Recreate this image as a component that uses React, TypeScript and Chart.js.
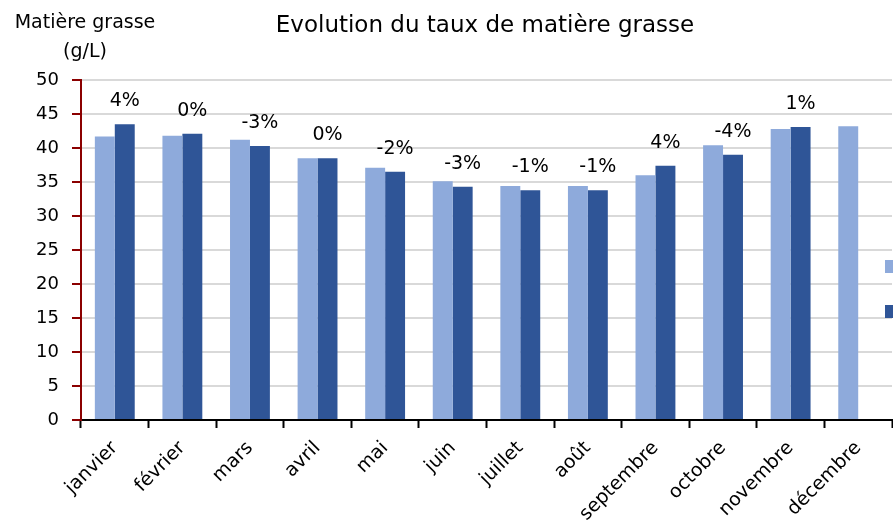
import React, { useEffect, useRef } from "react";
import { Chart, registerables } from "chart.js";

Chart.register(...registerables);

const categories = ["janvier", "février", "mars", "avril", "mai", "juin", "juillet", "août", "septembre", "octobre", "novembre", "décembre"];
const previousYear = [41.7, 41.8, 41.2, 38.5, 37.1, 35.1, 34.4, 34.4, 36.0, 40.4, 42.8, 43.2];
const currentYear: (number | null)[] = [43.5, 42.1, 40.3, 38.5, 36.5, 34.3, 33.8, 33.8, 37.4, 39.0, 43.1, null];
const changeLabels = ["4%", "0%", "-3%", "0%", "-2%", "-3%", "-1%", "-1%", "4%", "-4%", "1%", ""];
const yTicks = [0, 5, 10, 15, 20, 25, 30, 35, 40, 45, 50];

const LIGHT = "#8EAADB";
const DARK = "#2F5597";
const FONT = "'DejaVu Sans', sans-serif";

const overlay = {
  id: "overlay",
  afterDraw(chart: any) {
    const ctx = chart.ctx;
    ctx.save();
    ctx.fillStyle = "#000";
    ctx.textAlign = "center";
    ctx.textBaseline = "alphabetic";
    // title
    ctx.font = `23px ${FONT}`;
    ctx.fillText("Evolution du taux de matière grasse", 485, 32);
    // y axis title
    ctx.font = `19px ${FONT}`;
    ctx.fillText("Matière grasse", 85, 28);
    ctx.fillText("(g/L)", 85, 57);
    // percent labels on dark series
    const meta = chart.getDatasetMeta(1);
    ctx.font = `19px ${FONT}`;
    meta.data.forEach((bar: any, i: number) => {
      const t = changeLabels[i];
      if (!t || currentYear[i] == null) return;
      ctx.fillText(t, bar.x, bar.y - 18);
    });
    // legend markers (labels fall outside the visible area)
    ctx.fillStyle = LIGHT;
    ctx.fillRect(885, 260, 13, 13);
    ctx.fillStyle = DARK;
    ctx.fillRect(885, 305, 13, 13);
    ctx.restore();
  },
};

export default function App() {
  const ref = useRef<HTMLCanvasElement>(null);
  useEffect(() => {
    if (!ref.current) return;
    const chart = new Chart(ref.current, {
      type: "bar",
      data: {
        labels: categories,
        datasets: [
          { label: "Année N-1", data: previousYear, backgroundColor: LIGHT, barPercentage: 1, categoryPercentage: 0.59 },
          { label: "Année N", data: currentYear, backgroundColor: DARK, barPercentage: 1, categoryPercentage: 0.59 },
        ],
      },
      options: {
        responsive: false,
        animation: false,
        layout: { padding: { top: 80, left: 0, right: 1, bottom: 0 } },
        plugins: { legend: { display: false }, title: { display: false }, tooltip: { enabled: false } },
        scales: {
          x: {
            border: { color: "#000", width: 2 },
            grid: { display: true, drawOnChartArea: false, offset: true, tickLength: 8, tickColor: "#000", tickWidth: 2 },
            ticks: { color: "#000", font: { family: FONT, size: 19 }, minRotation: 45, maxRotation: 45, padding: 9, autoSkip: false },
            afterFit: (s: any) => { s.height = 103; },
          },
          y: {
            min: 0,
            max: 50,
            afterBuildTicks: (s: any) => { s.ticks = yTicks.map((v) => ({ value: v })); },
            border: { color: "#8B0000", width: 2 },
            grid: { color: "#D9D9D9", lineWidth: 2, tickColor: "#8B0000", tickLength: 9, tickWidth: 2 },
            ticks: { color: "#000", font: { family: FONT, size: 18 }, padding: 13 },
            afterFit: (s: any) => { s.width = 81; },
          },
        },
      },
      plugins: [overlay],
    });
    return () => chart.destroy();
  }, []);
  return (
    <div style={{ position: "fixed", left: 0, top: 0, width: 893, height: 523, overflow: "hidden", background: "#fff" }}>
      <canvas ref={ref} width={893} height={523} />
    </div>
  );
}
